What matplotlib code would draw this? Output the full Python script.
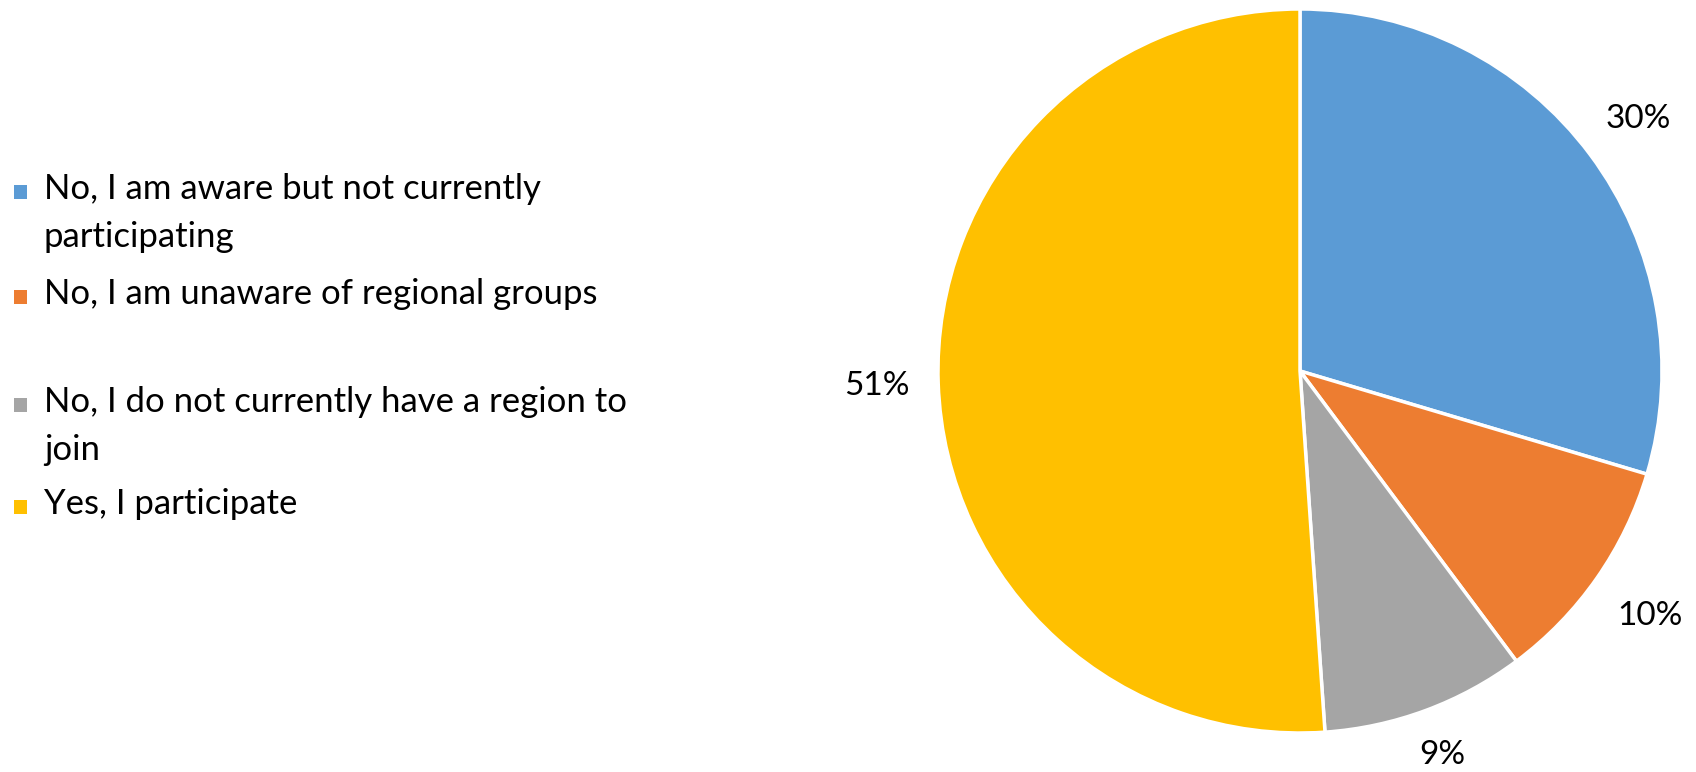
import matplotlib
matplotlib.use("Agg")
import numpy as np
import matplotlib.pyplot as plt
from matplotlib.patches import Rectangle

plt.rcParams['font.family'] = ['Lato', 'DejaVu Sans']

categories = [
    "No, I am aware but not currently\nparticipating",
    "No, I am unaware of regional groups",
    "No, I do not currently have a region to\njoin",
    "Yes, I participate",
]
values = [29.6, 10.2, 9.1, 51.1]
colors = ["#5B9BD5", "#ED7D31", "#A5A5A5", "#FFC000"]

W, H = 1696, 772
fig = plt.figure(figsize=(W / 100, H / 100), dpi=100)

cx, cy, R = 1300, 371, 362
ax = fig.add_axes([(cx - R) / W, (H - cy - R) / H, 2 * R / W, 2 * R / H])
wedges, texts, autotexts = ax.pie(
    values, colors=colors, startangle=90, counterclock=False,
    autopct=lambda p: f"{p:.0f}%", pctdistance=1.16,
    wedgeprops=dict(edgecolor="white", linewidth=2.5),
    textprops=dict(fontsize=24, color="#000000"),
)
ax.set_xlim(-1, 1)
ax.set_ylim(-1, 1)
ax.set_aspect('equal')

# per-label distance (layout only), mimicking best-fit placement
label_dist = [1.165, 1.18, 1.13, 1.17]
for w, t, d in zip(wedges, autotexts, label_dist):
    ang = np.deg2rad((w.theta1 + w.theta2) / 2)
    t.set_position((d * np.cos(ang), d * np.sin(ang)))
    t.set_clip_on(False)

# legend (manual, to mimic wrapped entries with spacing)
ys = [192, 297, 405, 507]
for y, lab, c in zip(ys, categories, colors):
    fig.patches.append(Rectangle((14 / W, 1 - (y + 7) / H), 13 / W, 14 / H,
                                 transform=fig.transFigure, facecolor=c,
                                 edgecolor="none"))
    fig.text(44 / W, 1 - (y - 19) / H, lab, fontsize=25, va="top", ha="left",
             linespacing=1.6, color="#000000")

fig.savefig("out.png", dpi=100)
